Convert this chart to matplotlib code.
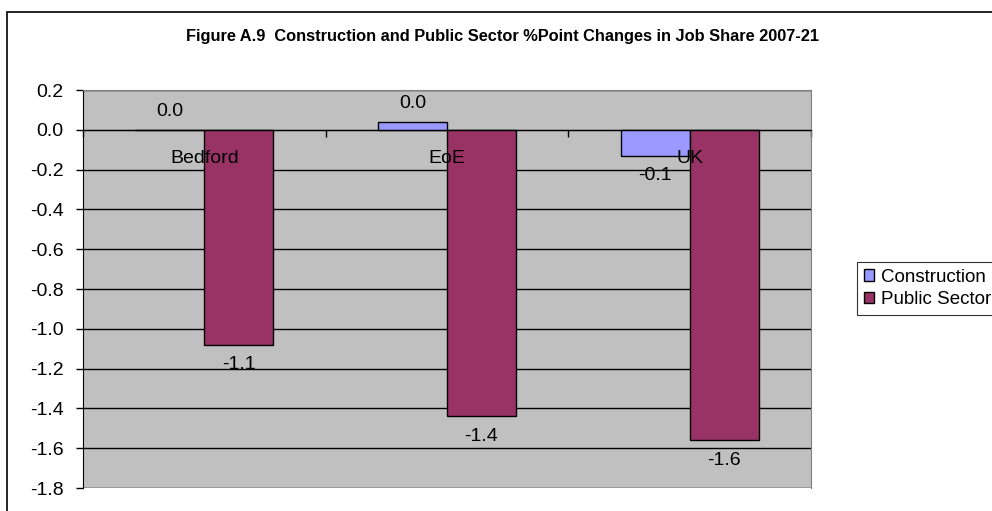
import matplotlib
matplotlib.use('agg')
import matplotlib.pyplot as plt
from matplotlib.patches import Rectangle
import numpy as np

plt.rcParams['font.family'] = ['Liberation Sans', 'DejaVu Sans']

areas = ["Bedford", "EoE", "UK"]
construction = [0.0, 0.04, -0.13]
public_sector = [-1.08, -1.44, -1.56]
y_ticks = [0.2, 0.0, -0.2, -0.4, -0.6, -0.8, -1.0, -1.2, -1.4, -1.6, -1.8]

title = "Figure A.9  Construction and Public Sector %Point Changes in Job Share 2007-21"

W, H = 992, 511
fig = plt.figure(figsize=(W / 100, H / 100), dpi=100)

# outer chart border, runs off the right and bottom edges
fig.patches.append(Rectangle((7 / W, -0.05), 1.1, 1 - 12 / H + 0.05, transform=fig.transFigure,
                             fill=False, edgecolor='black', linewidth=1.2))

ax = fig.add_axes([83 / W, (H - 488) / H, (811 - 83) / W, (488 - 90) / H])
ax.set_facecolor('#C0C0C0')

x = np.arange(len(areas))
w = 0.284
b1 = ax.bar(x - w / 2, construction, w, color='#9999FF', edgecolor='black', linewidth=1, zorder=3,
            label='Construction')
b2 = ax.bar(x + w / 2, public_sector, w, color='#993366', edgecolor='black', linewidth=1, zorder=3,
            label='Public Sector')

ax.set_xlim(-0.5, len(areas) - 0.5)
ax.set_ylim(-1.8, 0.2)
ax.set_yticks(y_ticks)
ax.set_yticklabels([f"{v:.1f}" for v in y_ticks], fontsize=14)
for v in y_ticks:
    ax.axhline(v, color='black', linewidth=1, zorder=1)

# category axis sits on the zero line
ax.spines['bottom'].set_position(('data', 0))
ax.spines['bottom'].set_zorder(4)
ax.set_xticks(np.arange(len(areas) + 1) - 0.5)
ax.set_xticklabels([])
ax.tick_params(axis='x', direction='out', length=5, width=1)
ax.tick_params(axis='y', direction='out', length=5, width=1, pad=9)
for s in ('top', 'right'):
    ax.spines[s].set_color('#808080')
ax.spines['left'].set_color('black')

for i, name in enumerate(areas):
    ax.text(i, -0.145, name, ha='center', va='center', fontsize=14, zorder=5)

# value labels above positive bars, below negative ones
for bars, vals in ((b1, construction), (b2, public_sector)):
    for r, v in zip(bars, vals):
        off = 18 if v >= 0 else -20
        ax.annotate(f"{v:.1f}", (r.get_x() + r.get_width() / 2, v), xytext=(0, off),
                    textcoords='offset pixels', ha='center', va='center', fontsize=14, zorder=5)

fig.text(502 / W, 1 - 36 / H, title, ha='center', va='center', fontsize=11.8, fontweight='bold')

leg = fig.legend(handles=[b1, b2], loc='upper left', bbox_to_anchor=(857 / W, 1 - 262 / H),
                 fontsize=13.5, frameon=True, fancybox=False, edgecolor='black',
                 handlelength=0.55, handleheight=0.55, handletextpad=0.4, borderpad=0.35,
                 labelspacing=0.3, borderaxespad=0)
leg.get_frame().set_linewidth(0.8)

fig.savefig('out.png', dpi=100)
